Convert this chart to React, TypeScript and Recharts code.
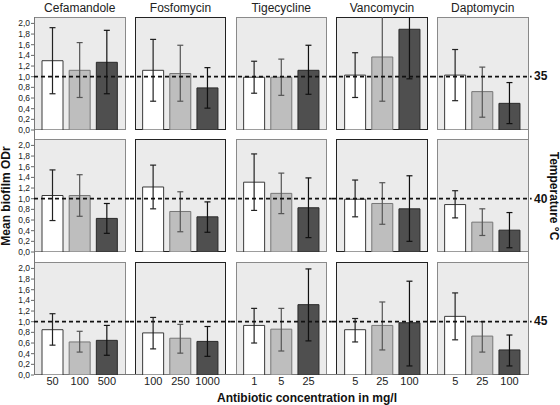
import { BarChart, Bar, XAxis, YAxis, ErrorBar, ReferenceLine, Cell } from "recharts";

const drugs = ["Cefamandole", "Fosfomycin", "Tigecycline", "Vancomycin", "Daptomycin"];
const concentrations = [
  ["50", "100", "500"],
  ["100", "250", "1000"],
  ["1", "5", "25"],
  ["5", "25", "100"],
  ["5", "25", "100"],
];
const temperatures = ["35", "40", "45"];
const yTicks = [0, 0.2, 0.4, 0.6, 0.8, 1.0, 1.2, 1.4, 1.6, 1.8, 2.0];

// mean biofilm ODr, one inner array per antibiotic (3 concentrations)
const mean35 = [[1.30, 1.12, 1.27], [1.12, 1.06, 0.79], [0.99, 0.99, 1.12], [1.03, 1.37, 1.89], [1.03, 0.72, 0.50]];
const low35 = [[0.68, 0.61, 0.68], [0.54, 0.54, 0.41], [0.69, 0.65, 0.67], [0.61, 0.54, 0.96], [0.55, 0.24, 0.12]];
const high35 = [[1.92, 1.64, 1.87], [1.70, 1.59, 1.17], [1.29, 1.33, 1.59], [1.45, 2.21, 2.82], [1.51, 1.18, 0.89]];

const mean40 = [[1.06, 1.06, 0.63], [1.22, 0.76, 0.66], [1.31, 1.10, 0.83], [0.99, 0.91, 0.81], [0.89, 0.56, 0.41]];
const low40 = [[0.59, 0.67, 0.35], [0.81, 0.38, 0.37], [0.78, 0.72, 0.27], [0.66, 0.52, 0.20], [0.64, 0.31, 0.08]];
const high40 = [[1.54, 1.45, 0.91], [1.63, 1.13, 0.94], [1.84, 1.48, 1.39], [1.35, 1.30, 1.43], [1.15, 0.81, 0.74]];

const mean45 = [[0.85, 0.62, 0.65], [0.79, 0.69, 0.63], [0.93, 0.86, 1.32], [0.85, 0.93, 0.98], [1.10, 0.73, 0.47]];
const low45 = [[0.56, 0.43, 0.37], [0.49, 0.41, 0.35], [0.60, 0.45, 0.64], [0.62, 0.47, 0.17], [0.66, 0.43, 0.17]];
const high45 = [[1.15, 0.82, 0.93], [1.08, 0.95, 0.91], [1.25, 1.25, 1.99], [1.06, 1.37, 1.76], [1.54, 1.00, 0.75]];

const MEANS = [mean35, mean40, mean45];
const LOWS = [low35, low40, low45];
const HIGHS = [high35, high40, high45];

const FONT = "'Liberation Sans', Arial, sans-serif";
const BAR_FILLS = ["#ffffff", "#bebebe", "#4f4f4f"];
const BAR_STROKES = ["#3a3a3a", "#777777", "#2a2a2a"];
const ERR_STROKES = ["#222222", "#555555", "#111111"];
const PANEL_BORDERS = ["#8a8a8a", "#222222", "#8a8a8a", "#222222", "#8a8a8a"];

// grid layout
const PLOT_LEFT = 34;
const COL_STEP = 100.75;
const PLOT_W = 91.5;
const PLOT_TOP = 16.7;
const ROW_STEP = 122.5;
const PLOT_H = 113;
const HALF_GAP = (COL_STEP - PLOT_W) / 2;
const RIGHT_END = 532;
const Y_MAX = 2.12;
const X_AXIS_H = 18;
const LABEL_ROOM = 6; // room under upper rows so the "0,0" label is not cut

function Panel({ row, col }: { row: number; col: number }) {
  const plotLeft = PLOT_LEFT + col * COL_STEP;
  const plotRight = plotLeft + PLOT_W;
  const svgLeft = col === 0 ? 0 : plotLeft - HALF_GAP;
  const svgRight = col === 4 ? RIGHT_END : plotRight + HALF_GAP;
  const width = svgRight - svgLeft;
  const top = PLOT_TOP + row * ROW_STEP;
  const bottomRoom = row === 2 ? 0 : LABEL_ROOM;
  const height = PLOT_H + (row === 2 ? X_AXIS_H : LABEL_ROOM);
  const dashStart = col === 0 ? PLOT_LEFT : 0;

  const data = concentrations[col].map((name, i) => {
    const m = MEANS[row][col][i];
    const err = [m - LOWS[row][col][i], HIGHS[row][col][i] - m];
    return {
      name,
      mean: m,
      e0: i === 0 ? err : undefined,
      e1: i === 1 ? err : undefined,
      e2: i === 2 ? err : undefined,
    };
  });

  return (
    <div style={{ position: "absolute", left: svgLeft, top }}>
      <BarChart
        width={width}
        height={height}
        data={data}
        barSize={21}
        margin={{ top: 0, bottom: bottomRoom, left: col === 0 ? 0 : HALF_GAP, right: svgRight - plotRight }}
      >
        <XAxis
          dataKey="name"
          type="category"
          padding={{ left: 5, right: 5 }}
          hide={row !== 2}
          height={X_AXIS_H}
          axisLine={false}
          tickLine={false}
          tickSize={0}
          tickMargin={2}
          interval={0}
          tick={{ fontSize: 11, fill: "#222", fontFamily: FONT }}
        />
        <YAxis
          type="number"
          domain={[0, Y_MAX]}
          allowDataOverflow
          ticks={yTicks}
          interval={0}
          hide={col !== 0}
          width={34}
          axisLine={false}
          tickLine={{ stroke: "#666" }}
          tickSize={3}
          tickMargin={1}
          tickFormatter={(v: number) => v.toFixed(1).replace(".", ",")}
          tick={{ fontSize: 8.5, fill: "#222", fontFamily: FONT }}
        />
        <Bar dataKey="mean" isAnimationActive={false}>
          {data.map((d, i) => (
            <Cell key={d.name} fill={BAR_FILLS[i]} stroke={BAR_STROKES[i]} strokeWidth={1} />
          ))}
          <ErrorBar dataKey="e0" width={3} stroke={ERR_STROKES[0]} strokeWidth={1.2} isAnimationActive={false} />
          <ErrorBar dataKey="e1" width={3} stroke={ERR_STROKES[1]} strokeWidth={1.2} isAnimationActive={false} />
          <ErrorBar dataKey="e2" width={3} stroke={ERR_STROKES[2]} strokeWidth={1.2} isAnimationActive={false} />
        </Bar>
        <ReferenceLine
          y={1}
          shape={(p: any) => (
            <line x1={dashStart} x2={width} y1={p.y1} y2={p.y1} stroke="#111" strokeWidth={1.8} strokeDasharray="4 3" />
          )}
        />
      </BarChart>
    </div>
  );
}

export default function App() {
  const gridBottom = PLOT_TOP + 2 * ROW_STEP + PLOT_H;
  const gridRight = PLOT_LEFT + 4 * COL_STEP + PLOT_W;
  const oneY = (r: number) => PLOT_TOP + r * ROW_STEP + PLOT_H * (1 - 1 / Y_MAX);

  return (
    <div style={{ position: "absolute", left: 0, top: 0, width: 560, height: 405, background: "#fff", fontFamily: FONT }}>
      {temperatures.map((_, r) =>
        drugs.map((_, c) => (
          <div
            key={`bg-${r}-${c}`}
            style={{
              position: "absolute",
              left: PLOT_LEFT + c * COL_STEP,
              top: PLOT_TOP + r * ROW_STEP,
              width: PLOT_W,
              height: PLOT_H,
              background: "#ebebeb",
              border: `1px solid ${PANEL_BORDERS[c]}`,
              boxSizing: "border-box",
            }}
          />
        ))
      )}
      {/* outer frame: left axis, bottom axis, right edge */}
      <div style={{ position: "absolute", left: PLOT_LEFT - 0.5, top: PLOT_TOP, width: 1, height: gridBottom - PLOT_TOP, background: "#777" }} />
      <div style={{ position: "absolute", left: PLOT_LEFT, top: gridBottom - 1, width: gridRight - PLOT_LEFT, height: 1, background: "#777" }} />
      <div style={{ position: "absolute", left: gridRight - 1, top: PLOT_TOP, width: 1, height: gridBottom - PLOT_TOP, background: "#888" }} />

      {temperatures.map((_, r) => drugs.map((_, c) => <Panel key={`p-${r}-${c}`} row={r} col={c} />))}

      <svg width={560} height={405} style={{ position: "absolute", left: 0, top: 0, pointerEvents: "none" }}>
        {drugs.map((d, c) => (
          <text key={d} x={PLOT_LEFT + c * COL_STEP + PLOT_W / 2} y={11.5} textAnchor="middle" fontSize={12} fill="#222" fontFamily={FONT}>
            {d}
          </text>
        ))}
        {temperatures.map((t, r) => (
          <text key={t} x={534} y={oneY(r)} dominantBaseline="central" fontSize={12} fontWeight="bold" fill="#111" fontFamily={FONT}>
            {t}
          </text>
        ))}
        <text transform="translate(9.5,196) rotate(-90)" textAnchor="middle" fontSize={12} fontWeight="bold" fill="#111" fontFamily={FONT}>
          Mean biofilm ODr
        </text>
        <text transform="translate(549.5,196) rotate(90)" textAnchor="middle" fontSize={12} fontWeight="bold" fill="#111" fontFamily={FONT}>
          Temperature °C
        </text>
        <text x={307} y={402} textAnchor="middle" fontSize={12} fontWeight="bold" fill="#111" fontFamily={FONT}>
          Antibiotic concentration in mg/l
        </text>
      </svg>
    </div>
  );
}
